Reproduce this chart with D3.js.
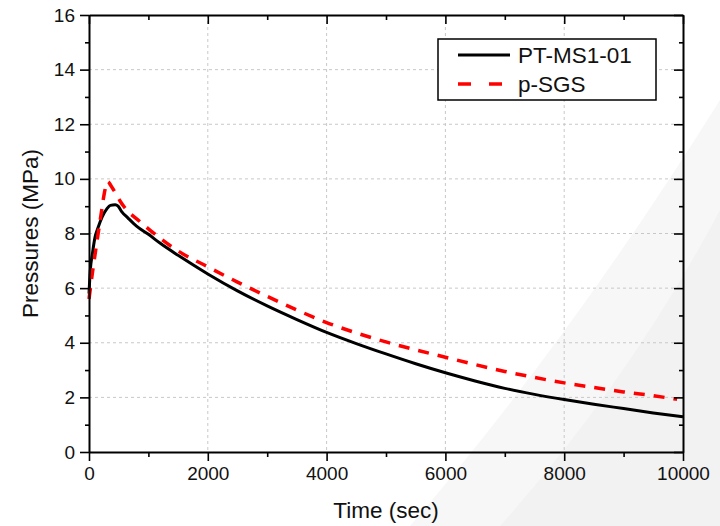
<!DOCTYPE html>
<html>
<head>
<meta charset="utf-8">
<script src="https://cdn.jsdelivr.net/npm/d3@7"></script>
<style>
  body { margin: 0; background: #fff; }
  svg { display: block; font-family: Arial, "Liberation Sans", sans-serif; }
</style>
</head>
<body>
<svg id="chart" width="720" height="526"></svg>
<script>
// Measured series (time in sec, pressure in MPa)
const ptTime = [0, 20, 60, 100, 150, 220, 300, 360, 440, 490, 550, 650, 800, 1000, 1200, 1500, 2000, 2500, 3000, 3500, 4000, 4500, 5000, 5500, 6000, 6500, 7000, 7500, 8000, 8500, 9000, 9500, 10000];
const ptPressure = [5.8, 6.6, 7.3, 7.85, 8.2, 8.6, 8.9, 9.03, 9.05, 9.0, 8.8, 8.58, 8.27, 7.97, 7.64, 7.2, 6.52, 5.9, 5.35, 4.85, 4.38, 3.97, 3.59, 3.23, 2.9, 2.6, 2.33, 2.11, 1.92, 1.75, 1.59, 1.43, 1.29];

const sgsTime = [0, 60, 120, 210, 260, 315, 370, 440, 520, 600, 850, 1000, 1500, 2000, 2500, 3000, 3500, 4000, 4500, 5000, 5500, 6000, 6500, 7000, 7500, 8000, 8500, 9000, 9500, 9900];
const sgsPressure = [5.6, 6.6, 7.5, 8.8, 9.5, 9.9, 9.75, 9.5, 9.2, 8.95, 8.45, 8.17, 7.36, 6.78, 6.22, 5.7, 5.2, 4.74, 4.36, 4.03, 3.74, 3.47, 3.2, 2.95, 2.73, 2.53, 2.36, 2.2, 2.06, 1.93];

const seriesNames = ["PT-MS1-01", "p-SGS"];
const xTicks = [0, 2000, 4000, 6000, 8000, 10000];
const yTicks = [0, 2, 4, 6, 8, 10, 12, 14, 16];

const svg = d3.select("#chart");

// faint background swoosh in the lower right corner
svg.append("path")
    .attr("d", "M410,526 Q570,340 720,100 L720,526 Z")
    .attr("fill", "#f7f7f7");
svg.append("path")
    .attr("d", "M500,526 Q630,380 720,210 L720,526 Z")
    .attr("fill", "#f2f2f2");

const margin = { top: 15, right: 37, bottom: 74, left: 89 };
const width = 720 - margin.left - margin.right,
    height = 526 - margin.top - margin.bottom;

const g = svg.append("g")
    .attr("transform", `translate(${margin.left}, ${margin.top})`);

const x = d3.scaleLinear().domain([0, 10000]).range([0, width]);
const y = d3.scaleLinear().domain([0, 16]).range([height, 0]);

// Grid lines at the major ticks
g.append("g").selectAll("line")
    .data(xTicks.slice(1, -1))
    .enter().append("line")
    .attr("x1", d => x(d)).attr("x2", d => x(d))
    .attr("y1", 0).attr("y2", height)
    .attr("stroke", "#c8c8c8").attr("stroke-dasharray", "3,3");
g.append("g").selectAll("line")
    .data(yTicks.slice(1, -1))
    .enter().append("line")
    .attr("y1", d => y(d)).attr("y2", d => y(d))
    .attr("x1", 0).attr("x2", width)
    .attr("stroke", "#c8c8c8").attr("stroke-dasharray", "3,3");

// Lines
const line = d3.line()
    .x(d => x(d[0]))
    .y(d => y(d[1]))
    .curve(d3.curveMonotoneX);

const ptData = ptTime.map((t, i) => [t, ptPressure[i]]);
const sgsData = sgsTime.map((t, i) => [t, sgsPressure[i]]);

g.append("path")
    .datum(ptData)
    .attr("d", line)
    .attr("fill", "none")
    .attr("stroke", "#000")
    .attr("stroke-width", 3);

g.append("path")
    .datum(sgsData)
    .attr("d", line)
    .attr("fill", "none")
    .attr("stroke", "#ff0000")
    .attr("stroke-width", 3.5)
    .attr("stroke-dasharray", "11,9");

// Axes: outward ticks bottom/left, inward ticks top/right
const xMinor = d3.range(1000, 10000, 2000);
const yMinor = d3.range(1, 16, 2);

function styleAxis(sel) {
    sel.select(".domain").attr("stroke-width", 2);
    sel.selectAll(".tick line").attr("stroke-width", 1.6);
    sel.selectAll("text").attr("font-size", 19).attr("fill", "#111");
}

g.append("g")
    .attr("transform", `translate(0, ${height})`)
    .call(d3.axisBottom(x).tickValues(xTicks).tickSize(9).tickSizeOuter(0).tickPadding(6).tickFormat(d3.format("d")))
    .call(styleAxis);
g.append("g")
    .attr("transform", `translate(0, ${height})`)
    .call(d3.axisBottom(x).tickValues(xMinor).tickSize(5).tickFormat(""))
    .call(s => s.select(".domain").remove())
    .call(s => s.selectAll(".tick line").attr("stroke-width", 1.6));

g.append("g")
    .call(d3.axisLeft(y).tickValues(yTicks).tickSize(9).tickSizeOuter(0).tickPadding(5))
    .call(styleAxis);
g.append("g")
    .call(d3.axisLeft(y).tickValues(yMinor).tickSize(4).tickFormat(""))
    .call(s => s.select(".domain").remove())
    .call(s => s.selectAll(".tick line").attr("stroke-width", 1.6));

g.append("g")
    .call(d3.axisTop(x).tickValues(xTicks).tickSize(-9).tickSizeOuter(0).tickFormat(""))
    .call(styleAxis);
g.append("g")
    .call(d3.axisTop(x).tickValues(xMinor).tickSize(-5).tickFormat(""))
    .call(s => s.select(".domain").remove())
    .call(s => s.selectAll(".tick line").attr("stroke-width", 1.6));

g.append("g")
    .attr("transform", `translate(${width}, 0)`)
    .call(d3.axisRight(y).tickValues(yTicks).tickSize(-9).tickSizeOuter(0).tickFormat(""))
    .call(styleAxis);
g.append("g")
    .attr("transform", `translate(${width}, 0)`)
    .call(d3.axisRight(y).tickValues(yMinor).tickSize(-4).tickFormat(""))
    .call(s => s.select(".domain").remove())
    .call(s => s.selectAll(".tick line").attr("stroke-width", 1.6));

// Axis titles
svg.append("text")
    .attr("x", margin.left + width / 2)
    .attr("y", 518)
    .attr("text-anchor", "middle")
    .attr("font-size", 22.5)
    .attr("fill", "#111")
    .text("Time (sec)");

svg.append("text")
    .attr("transform", `translate(38, ${margin.top + height / 2}) rotate(-90)`)
    .attr("text-anchor", "middle")
    .attr("font-size", 22.5)
    .attr("fill", "#111")
    .text("Pressures (MPa)");

// Legend
const legend = svg.append("g").attr("transform", "translate(438, 39)");
legend.append("rect")
    .attr("width", 218).attr("height", 61)
    .attr("fill", "#fff").attr("stroke", "#000").attr("stroke-width", 1.5);

legend.append("line")
    .attr("x1", 20).attr("x2", 72).attr("y1", 16).attr("y2", 16)
    .attr("stroke", "#000").attr("stroke-width", 3);
legend.append("line")
    .attr("x1", 20).attr("x2", 65).attr("y1", 45).attr("y2", 45)
    .attr("stroke", "#ff0000").attr("stroke-width", 3.5)
    .attr("stroke-dasharray", "13,18");

legend.selectAll("text.lbl")
    .data(seriesNames)
    .enter().append("text")
    .attr("class", "lbl")
    .attr("x", 80)
    .attr("y", (d, i) => 24 + i * 29)
    .attr("font-size", 22.5)
    .attr("fill", "#111")
    .text(d => d);
</script>
</body>
</html>
